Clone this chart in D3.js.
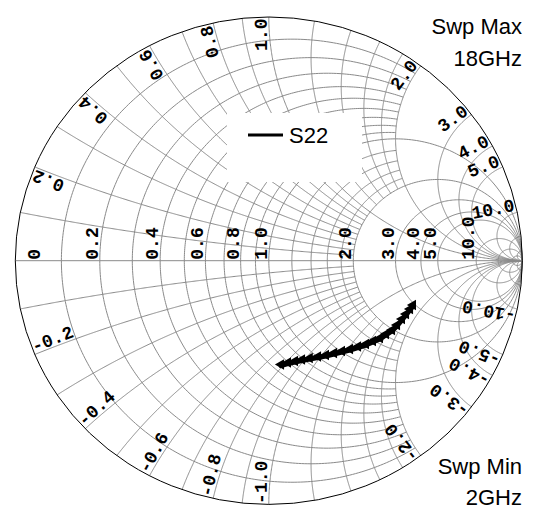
<!DOCTYPE html>
<html><head><meta charset="utf-8">
<script src="https://cdn.jsdelivr.net/npm/d3@7"></script>
<style>body{margin:0;background:#fff;overflow:hidden}</style>
</head><body>
<svg id="c" width="533" height="509"></svg>
<script>
// ---- grid definition (data units) ----
const rFine = [0.1,0.2,0.3,0.4,0.5,0.6,0.7,0.8,0.9];
const rMid = [1.2,1.4,1.6,1.8];
const rMajor = [1.0,2.0,3.0,4.0,5.0,10.0,20.0,50.0];
const xFine = [0.1,0.2,0.3,0.4,0.5,0.6,0.7,0.8,0.9];
const xMid = [1.2,1.4,1.6,1.8];
const xMajor = [1.0,2.0,3.0,4.0,5.0,10.0,20.0,50.0];
const fineLimit = 2.0;
// ---- labels ----
const rLabelValues = [0,0.2,0.4,0.6,0.8,1.0,2.0,3.0,4.0,5.0,10.0];
const rLabelText = ["0","0.2","0.4","0.6","0.8","1.0","2.0","3.0","4.0","5.0","10.0"];
const xLabelValues = [0.2,0.4,0.6,0.8,1.0,2.0,3.0,4.0,5.0,10.0];
const xLabelText = ["0.2","0.4","0.6","0.8","1.0","2.0","3.0","4.0","5.0","10.0"];
// ---- trace S22 (reflection coefficient) ----
const seriesName = "S22";
const s22Re = [0.0481,0.0757,0.1034,0.1310,0.1617,0.1941,0.2256,0.2572,0.2887,0.3203,0.3519,0.3834,0.4110,0.4386,0.4623,0.4860,0.5057,0.5254,0.5412,0.5570,0.5688];
const s22Im = [-0.4300,-0.4218,-0.4157,-0.4095,-0.4034,-0.3972,-0.3911,-0.3828,-0.3746,-0.3664,-0.3562,-0.3459,-0.3336,-0.3213,-0.3049,-0.2885,-0.2680,-0.2433,-0.2228,-0.2023,-0.1859];
const sweepMax = ["Swp Max","18GHz"];
const sweepMin = ["Swp Min","2GHz"];

const svg = d3.select("#c");
const X = d3.scaleLinear().domain([-1,1]).range([15.3,522.3]);
const Y = d3.scaleLinear().domain([-1,1]).range([504.4,17.0]);
const line = d3.line().x(d=>X(d[0])).y(d=>Y(d[1]));

function gamma(r,x){
  const a=r-1,c=r+1,den=c*c+x*x;
  return [(a*c+x*x)/den,(x*c-a*x)/den];
}
function rPath(r,xmax){
  const U=isFinite(xmax)?Math.atan(xmax/(1+r)):Math.PI/2-1e-7;
  const pts=[];const n=300;
  for(let i=0;i<=n;i++){const u=-U+2*U*i/n;pts.push(gamma(r,(1+r)*Math.tan(u)));}
  return pts;
}
function xPath(x,rmin,rmax){
  const ax=Math.abs(x),s=Math.sign(x);
  const w0=Math.atan(ax/(1+rmin)), w1=isFinite(rmax)?Math.atan(ax/(1+rmax)):1e-7;
  const pts=[];const n=300;
  for(let i=0;i<=n;i++){const w=w0+(w1-w0)*i/n;const r=ax/Math.tan(w)-1;pts.push(gamma(r,s*ax));}
  return pts;
}
const g=svg.append("g").attr("fill","none").attr("stroke","#8a8a8a").attr("stroke-width",1);
const drawR=(r,xmax)=>g.append("path").attr("d",line(rPath(r,xmax)));
const drawX=(x,rmax)=>{g.append("path").attr("d",line(xPath(x,0,rmax)));g.append("path").attr("d",line(xPath(-x,0,rmax)));};
rFine.forEach(r=>drawR(r,fineLimit));
rMid.forEach(r=>drawR(r,fineLimit));
rMajor.forEach(r=>drawR(r,Infinity));
xFine.forEach(x=>drawX(x,fineLimit));
xMid.forEach(x=>drawX(x,fineLimit));
xMajor.forEach(x=>drawX(x,Infinity));
g.append("line").attr("x1",X(-1)).attr("x2",X(1)).attr("y1",Y(0)).attr("y2",Y(0));
svg.append("ellipse").attr("cx",X(0)).attr("cy",Y(0)).attr("rx",X(1)-X(0)).attr("ry",Y(0)-Y(1))
  .attr("fill","none").attr("stroke","#000").attr("stroke-width",1);

const lab=svg.append("g").attr("font-family","'Liberation Mono','Courier New',monospace")
  .attr("font-weight","bold").attr("font-size",18).attr("fill","#000");
rLabelValues.forEach((r,i)=>{
  const p=gamma(r,0);let px=X(p[0])-2; if(r===0) px=X(-1)+25;
  lab.append("text").attr("transform",`translate(${px},${Y(0)-1}) rotate(-90)`).text(rLabelText[i]);
});
function tangentAngle(x){
  const p=gamma(0,x), q=gamma(0.01,x);
  return Math.atan2(Y(q[1])-Y(p[1]),X(q[0])-X(p[0]));
}
xLabelValues.forEach((x,i)=>{
  let p=gamma(0,x), a=tangentAngle(x)+Math.PI;
  let ux=Math.sin(a), uy=-Math.cos(a);
  let px=X(p[0])-Math.cos(a)*1.5+ux*2, py=Y(p[1])-Math.sin(a)*1.5+uy*2;
  lab.append("text").attr("text-anchor","end").attr("transform",`translate(${px},${py}) rotate(${a*180/Math.PI})`).text(xLabelText[i]);
  p=gamma(0,-x); a=tangentAngle(-x);
  ux=Math.sin(a); uy=-Math.cos(a);
  px=X(p[0])+Math.cos(a)*0.5+ux*2; py=Y(p[1])+Math.sin(a)*0.5+uy*2;
  lab.append("text").attr("text-anchor","start").attr("transform",`translate(${px},${py}) rotate(${a*180/Math.PI})`).text("-"+xLabelText[i]);
});

svg.append("rect").attr("x",227).attr("y",113).attr("width",135).attr("height",69).attr("fill","#fff");
svg.append("line").attr("x1",248).attr("x2",283).attr("y1",135).attr("y2",135).attr("stroke","#000").attr("stroke-width",3);
svg.append("text").attr("x",289).attr("y",143).attr("font-family","'Liberation Sans',Arial,sans-serif").attr("font-size",22).text(seriesName);

const pts=s22Re.map((v,i)=>[v,s22Im[i]]);
svg.append("path").attr("d",line(pts)).attr("fill","none").attr("stroke","#000").attr("stroke-width",5).attr("stroke-linejoin","round").attr("stroke-linecap","round");
const tri=d3.symbol().type(d3.symbolTriangle).size(48);
svg.selectAll(".m").data(pts).join("path").attr("d",tri).attr("transform",d=>`translate(${X(d[0])},${Y(d[1])-1}) rotate(-90)`).attr("fill","#000");

const st=svg.append("g").attr("font-family","'Liberation Sans',Arial,sans-serif").attr("font-size",22).attr("text-anchor","end");
st.append("text").attr("x",522).attr("y",34).text(sweepMax[0]);
st.append("text").attr("x",522).attr("y",66).text(sweepMax[1]);
st.append("text").attr("x",522).attr("y",474).text(sweepMin[0]);
st.append("text").attr("x",522).attr("y",505).text(sweepMin[1]);
</script>
</body></html>
